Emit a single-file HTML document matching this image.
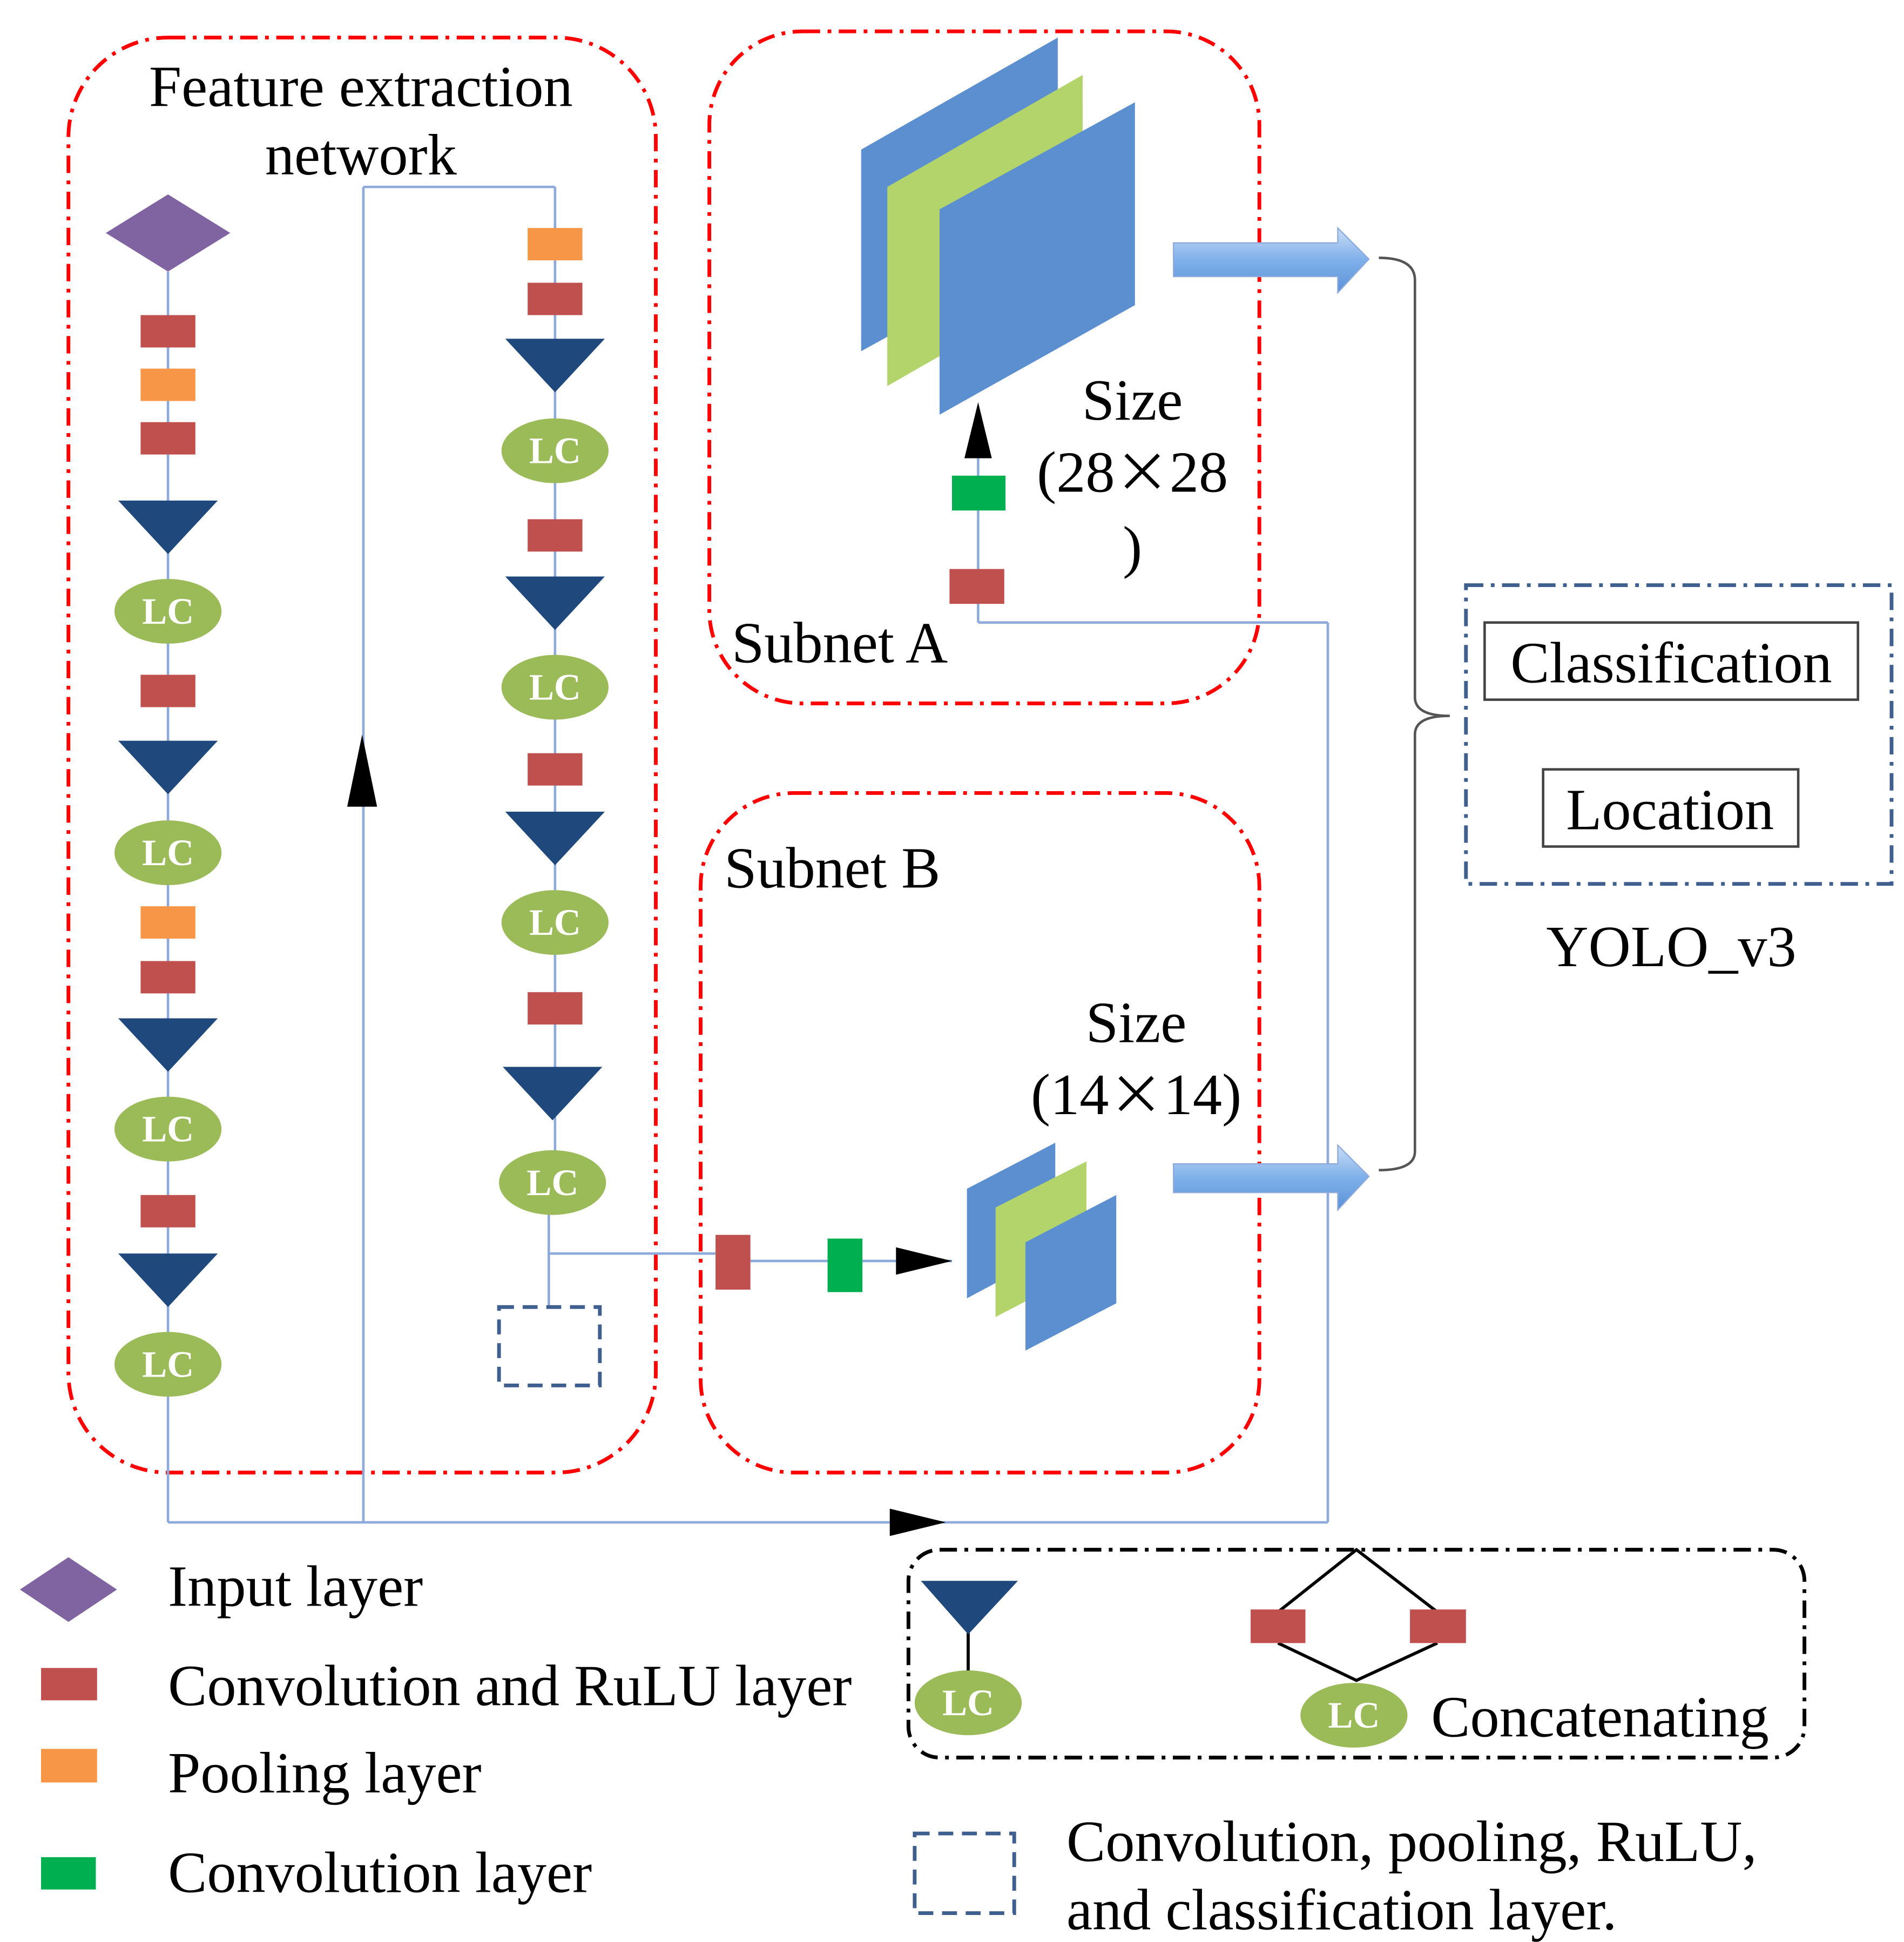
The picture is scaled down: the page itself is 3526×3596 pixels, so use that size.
<!DOCTYPE html>
<html><head><meta charset="utf-8"><style>html,body{margin:0;padding:0;background:#fff}svg{display:block}</style></head><body>
<svg xmlns="http://www.w3.org/2000/svg" width="3526" height="3596" viewBox="0 0 1530 1560" font-family="Liberation Serif, serif">
<defs>
<linearGradient id="ga" x1="0" y1="0" x2="0" y2="1"><stop offset="0" stop-color="#c9dcf5"/><stop offset="0.5" stop-color="#7fb0ea"/><stop offset="1" stop-color="#5a92d8"/></linearGradient>
<g id="lc"><ellipse cx="0" cy="0" rx="43" ry="26" fill="#9BBB59"/><text x="0" y="10" text-anchor="middle" font-size="30" fill="#fff" font-weight="bold">LC</text></g>
<rect id="r" x="-22" y="-13" width="44" height="26" fill="#C0504D"/>
<rect id="o" x="-22" y="-13" width="44" height="26" fill="#F79646"/>
<polygon id="t" points="-40,0 40,0 0,43" fill="#1F497D"/>
</defs>
<g fill="none" stroke="#FF0000" stroke-width="3" stroke-dasharray="14,6,3,6">
<rect x="55" y="30" width="472" height="1153" rx="80"/>
<rect x="570" y="25" width="442" height="540" rx="75"/>
<rect x="563" y="637" width="449" height="546" rx="75"/>
</g>
<rect x="1178" y="470" width="342" height="240" fill="none" stroke="#3F5F8F" stroke-width="3" stroke-dasharray="14,6,3,6"/>
<rect x="730" y="1245" width="720" height="167" rx="25" fill="none" stroke="#000" stroke-width="3" stroke-dasharray="14,6,3,6"/>
<g stroke="#8EAADB" stroke-width="2" fill="none">
<line x1="135" y1="218" x2="135" y2="1223"/>
<line x1="135" y1="1223" x2="1067" y2="1223"/>
<line x1="292" y1="150" x2="292" y2="1223"/>
<line x1="292" y1="150" x2="446" y2="150"/>
<line x1="446" y1="150" x2="446" y2="940"/>
<line x1="441" y1="960" x2="441" y2="1050"/>
<polyline points="441,1007 575,1007"/>
<line x1="603" y1="1013" x2="765" y2="1013"/>
<line x1="1067" y1="500" x2="1067" y2="1223"/>
<line x1="786" y1="500" x2="1067" y2="500"/>
<line x1="786" y1="368" x2="786" y2="500"/>
</g>
<polygon points="291,590 279,648 303,648" fill="#000"/>
<polygon points="760,1223 715,1212 715,1234" fill="#000"/>
<polygon points="786,323 775,368 797,368" fill="#000"/>
<polygon points="765,1013 720,1002 720,1024" fill="#000"/>
<polygon points="85,187 135,156 185,187 135,218" fill="#8064A2"/>
<g transform="translate(135,0)">
<use href="#r" y="266"/><use href="#o" y="309"/><use href="#r" y="352"/>
<use href="#t" y="402"/><use href="#lc" y="491"/><use href="#r" y="555"/>
<use href="#t" y="595"/><use href="#lc" y="685"/><use href="#o" y="741"/><use href="#r" y="785"/>
<use href="#t" y="818"/><use href="#lc" y="907"/><use href="#r" y="973"/>
<use href="#t" y="1007"/><use href="#lc" y="1096"/>
</g>
<g transform="translate(446,0)">
<use href="#o" y="196"/><use href="#r" y="240"/><use href="#t" y="272"/><use href="#lc" y="362"/>
<use href="#r" y="430"/><use href="#t" y="463"/><use href="#lc" y="552"/>
<use href="#r" y="618"/><use href="#t" y="652"/><use href="#lc" y="741"/>
<use href="#r" y="810"/>
</g>
<use href="#t" x="444" y="857"/><use href="#lc" x="444" y="950"/>
<rect x="401" y="1050" width="81" height="63" fill="none" stroke="#3F5F8F" stroke-width="3" stroke-dasharray="12,7"/>
<text x="290" y="85" text-anchor="middle" font-size="47">Feature extraction</text>
<text x="290" y="140" text-anchor="middle" font-size="47">network</text>
<polygon points="692,120 850,30 850,195 692,282" fill="#5B8FD0"/>
<polygon points="713,150 870,60 870,220 713,310" fill="#B2D46A"/>
<polygon points="755,168 912,82 912,245 755,333" fill="#5B8FD0"/>
<rect x="765" y="382" width="43" height="28" fill="#00B050"/>
<rect x="763" y="457" width="44" height="28" fill="#C0504D"/>
<text x="910" y="337" text-anchor="middle" font-size="47">Size</text>
<text x="910" y="395" text-anchor="middle" font-size="47">(28<tspan font-family="Noto Sans CJK SC, sans-serif" font-size="44">×</tspan>28</text>
<text x="910" y="455" text-anchor="middle" font-size="47">)</text>
<text x="588" y="532" font-size="47">Subnet A</text>
<text x="582" y="713" font-size="47">Subnet B</text>
<rect x="575" y="992" width="28" height="44" fill="#C0504D"/>
<rect x="665" y="995" width="28" height="43" fill="#00B050"/>
<polygon points="777,955 848,918 848,1005 777,1043" fill="#5B8FD0"/>
<polygon points="800,970 873,933 873,1020 800,1058" fill="#B2D46A"/>
<polygon points="824,998 897,960 897,1047 824,1085" fill="#5B8FD0"/>
<text x="913" y="837" text-anchor="middle" font-size="47">Size</text>
<text x="913" y="895" text-anchor="middle" font-size="47">(14<tspan font-family="Noto Sans CJK SC, sans-serif" font-size="44">×</tspan>14)</text>
<polygon points="943,195 1075,195 1075,183 1100,208 1075,235 1075,222 943,222" fill="url(#ga)" stroke="#8EAADB"/>
<polygon points="943,935 1075,935 1075,920 1100,945 1075,972 1075,958 943,958" fill="url(#ga)" stroke="#8EAADB"/>
<path d="M1108,207 Q1137,207 1137,225 L1137,560 Q1137,575 1165,575 Q1137,575 1137,590 L1137,925 Q1137,940 1108,940" fill="none" stroke="#555" stroke-width="2"/>
<rect x="1193" y="500" width="300" height="62" fill="#fff" stroke="#444" stroke-width="2"/>
<text x="1343" y="548" text-anchor="middle" font-size="47">Classification</text>
<rect x="1240" y="618" width="205" height="62" fill="#fff" stroke="#444" stroke-width="2"/>
<text x="1342" y="666" text-anchor="middle" font-size="47">Location</text>
<text x="1343" y="776" text-anchor="middle" font-size="47">YOLO_v3</text>
<polygon points="16,1277 55,1251 94,1277 55,1303" fill="#8064A2"/>
<rect x="33" y="1340" width="45" height="26" fill="#C0504D"/>
<rect x="33" y="1405" width="45" height="27" fill="#F79646"/>
<rect x="33" y="1492" width="44" height="26" fill="#00B050"/>
<g font-size="47">
<text x="135" y="1290">Input layer</text>
<text x="135" y="1370">Convolution and RuLU layer</text>
<text x="135" y="1440">Pooling layer</text>
<text x="135" y="1520">Convolution layer</text>
<text x="1150" y="1395">Concatenating</text>
<text x="857" y="1495">Convolution, pooling, RuLU,</text>
<text x="857" y="1550">and classification layer.</text>
</g>
<g stroke="#000" stroke-width="2.5" fill="none">
<line x1="778" y1="1300" x2="778" y2="1345"/>
<polyline points="1027,1295 1090,1245 1155,1295"/>
<polyline points="1027,1320 1090,1350 1155,1320"/>
</g>
<polygon points="740,1270 818,1270 778,1313" fill="#1F497D"/>
<use href="#lc" x="778" y="1368"/>
<rect x="1005" y="1293" width="44" height="27" fill="#C0504D"/>
<rect x="1133" y="1293" width="45" height="27" fill="#C0504D"/>
<use href="#lc" x="1088" y="1378"/>
<rect x="735" y="1473" width="80" height="64" fill="none" stroke="#3F5F8F" stroke-width="3" stroke-dasharray="12,7"/>
</svg>
</body></html>
